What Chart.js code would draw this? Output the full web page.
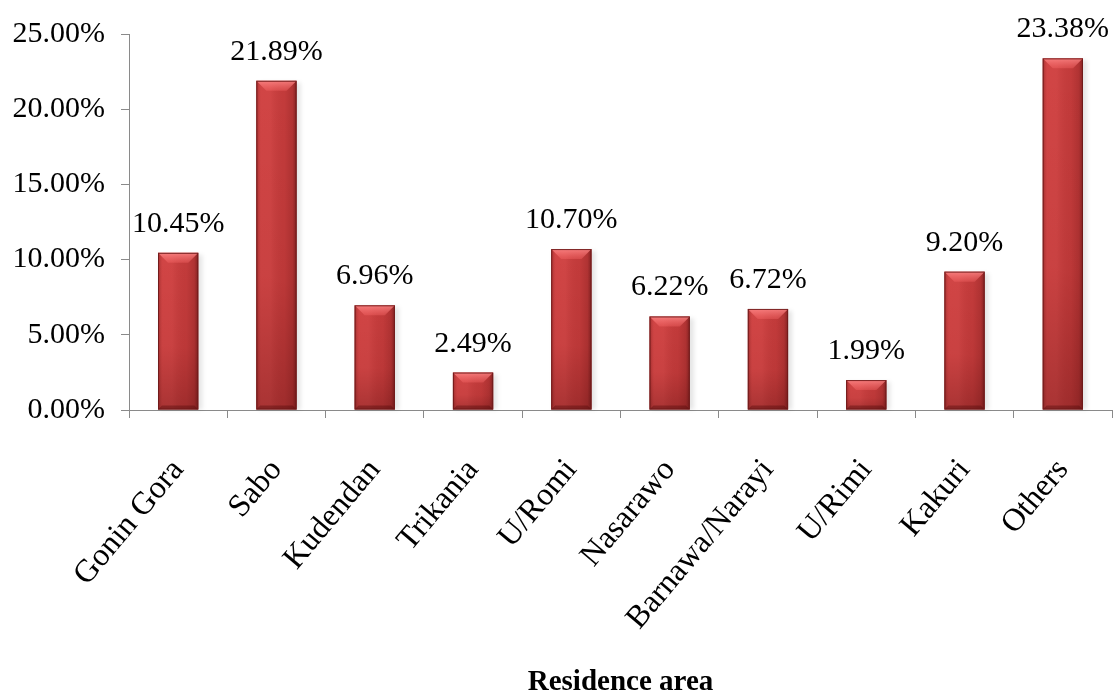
<!DOCTYPE html>
<html>
<head>
<meta charset="utf-8">
<script src="https://cdn.jsdelivr.net/npm/chart.js@4.4.1/dist/chart.umd.min.js"></script>
<style>
    html, body { margin: 0; padding: 0; background: #fff; }
    #contenedor { width: 1119px; height: 700px; }
</style>
</head>
<body>
<div id="contenedor"><canvas id="graficoResidencia"></canvas></div>
<script>
// Porcentaje de encuestados por zona de residencia
const areas = ['Gonin Gora', 'Sabo', 'Kudendan', 'Trikania', 'U/Romi', 'Nasarawo', 'Barnawa/Narayi', 'U/Rimi', 'Kakuri', 'Others'];
const porcentajes = [10.45, 21.89, 6.96, 2.49, 10.70, 6.22, 6.72, 1.99, 9.20, 23.38];
const ejeMin = 0;
const ejeMax = 25;
const ejePaso = 5;

const fuente = '"Liberation Serif", "Times New Roman", serif';
const gris = '#8a8a8a';

// sombreado de las barras: biseles y degradados sobre el rojo base
const relieveBarras = {
    id: 'relieveBarras',
    beforeDatasetsDraw(chart) {
        const ctx = chart.ctx;
        ctx.save();
        chart.getDatasetMeta(0).data.forEach(bar => {
            const w = bar.width;
            ctx.fillStyle = 'rgba(0,0,0,0.10)';
            ctx.filter = 'blur(2px)';
            ctx.fillRect(bar.x - w / 2 + 2, bar.y + 2, w + 2, bar.base - bar.y - 2);
            ctx.filter = 'none';
        });
        ctx.restore();
    },
    afterDatasetsDraw(chart) {
        const ctx = chart.ctx;
        ctx.save();
        chart.getDatasetMeta(0).data.forEach(bar => {
            const izq = bar.x - bar.width / 2;
            const der = bar.x + bar.width / 2;
            const arriba = bar.y;
            const abajo = bar.base;
            const alto = abajo - arriba;
            const b = Math.min(10, alto / 2);

            let g = ctx.createLinearGradient(izq, 0, der, 0);
            g.addColorStop(0, 'rgba(80,10,10,0.35)');
            g.addColorStop(0.12, 'rgba(255,110,110,0.14)');
            g.addColorStop(0.35, 'rgba(255,120,120,0.12)');
            g.addColorStop(0.7, 'rgba(60,0,0,0.05)');
            g.addColorStop(0.9, 'rgba(60,0,0,0.18)');
            g.addColorStop(1, 'rgba(40,0,0,0.45)');
            ctx.fillStyle = g;
            ctx.fillRect(izq, arriba, der - izq, alto);

            g = ctx.createLinearGradient(0, arriba, 0, abajo);
            g.addColorStop(0, 'rgba(60,0,0,0)');
            g.addColorStop(0.6, 'rgba(60,0,0,0.05)');
            g.addColorStop(1, 'rgba(50,0,0,0.25)');
            ctx.fillStyle = g;
            ctx.fillRect(izq, arriba, der - izq, alto);

            // bisel superior más claro
            g = ctx.createLinearGradient(0, arriba, 0, arriba + b);
            g.addColorStop(0, 'rgba(255,140,140,0.8)');
            g.addColorStop(1, 'rgba(255,110,110,0.3)');
            ctx.fillStyle = g;
            ctx.beginPath();
            ctx.moveTo(izq, arriba);
            ctx.lineTo(der, arriba);
            ctx.lineTo(der - b, arriba + b);
            ctx.lineTo(izq + b, arriba + b);
            ctx.closePath();
            ctx.fill();

            // bisel inferior oscuro
            ctx.fillStyle = 'rgba(70,5,5,0.35)';
            ctx.beginPath();
            ctx.moveTo(izq, abajo);
            ctx.lineTo(der, abajo);
            ctx.lineTo(der - 4, abajo - 4);
            ctx.lineTo(izq + 4, abajo - 4);
            ctx.closePath();
            ctx.fill();

            ctx.strokeStyle = 'rgba(110,25,25,0.9)';
            ctx.lineWidth = 1;
            ctx.strokeRect(izq + 0.5, arriba + 0.5, der - izq - 1, alto - 1);
        });
        ctx.restore();
    }
};

// etiquetas con el valor encima de cada barra
const etiquetasValor = {
    id: 'etiquetasValor',
    afterDatasetsDraw(chart) {
        const ctx = chart.ctx;
        const valores = chart.data.datasets[0].data;
        ctx.save();
        ctx.font = '30px ' + fuente;
        ctx.fillStyle = '#000';
        ctx.textAlign = 'center';
        ctx.textBaseline = 'alphabetic';
        chart.getDatasetMeta(0).data.forEach((bar, i) => {
            ctx.fillText(valores[i].toFixed(2) + '%', bar.x, bar.y - 21);
        });
        ctx.restore();
    }
};

const ctx = document.getElementById('graficoResidencia').getContext('2d');
const graficoResidencia = new Chart(ctx, {
    type: 'bar',
    data: {
        labels: areas,
        datasets: [{
            data: porcentajes,
            backgroundColor: '#ca3e3e',
            borderWidth: 0,
            barPercentage: 0.41,
            categoryPercentage: 1
        }]
    },
    options: {
        responsive: true,
        maintainAspectRatio: false,
        animation: false,
        layout: { padding: { top: 31, right: 7, left: 0, bottom: 0 } },
        plugins: {
            legend: { display: false },
            tooltip: { enabled: false }
        },
        scales: {
            x: {
                grid: { drawOnChartArea: false, color: gris, tickLength: 8, offset: true },
                border: { color: gris },
                ticks: {
                    color: '#000',
                    font: { family: fuente, size: 32 },
                    minRotation: 50,
                    maxRotation: 50,
                    padding: 34,
                    autoSkip: false
                },
                title: {
                    display: true,
                    text: 'Residence area',
                    color: '#000',
                    font: { family: fuente, size: 29, weight: 'bold' },
                    padding: { top: 0, bottom: 0 }
                },
                afterFit(scale) {
                    scale.height = 290;
                    scale.paddingLeft = 0;
                    scale.paddingRight = 0;
                }
            },
            y: {
                min: ejeMin,
                max: ejeMax,
                grid: { drawOnChartArea: false, color: gris, tickLength: 8 },
                border: { color: gris },
                ticks: {
                    stepSize: ejePaso,
                    color: '#000',
                    font: { family: fuente, size: 30 },
                    padding: 16,
                    callback: v => v.toFixed(2) + '%'
                },
                afterFit(scale) { scale.width = 129; }
            }
        }
    },
    plugins: [relieveBarras, etiquetasValor]
});
</script>
</body>
</html>
